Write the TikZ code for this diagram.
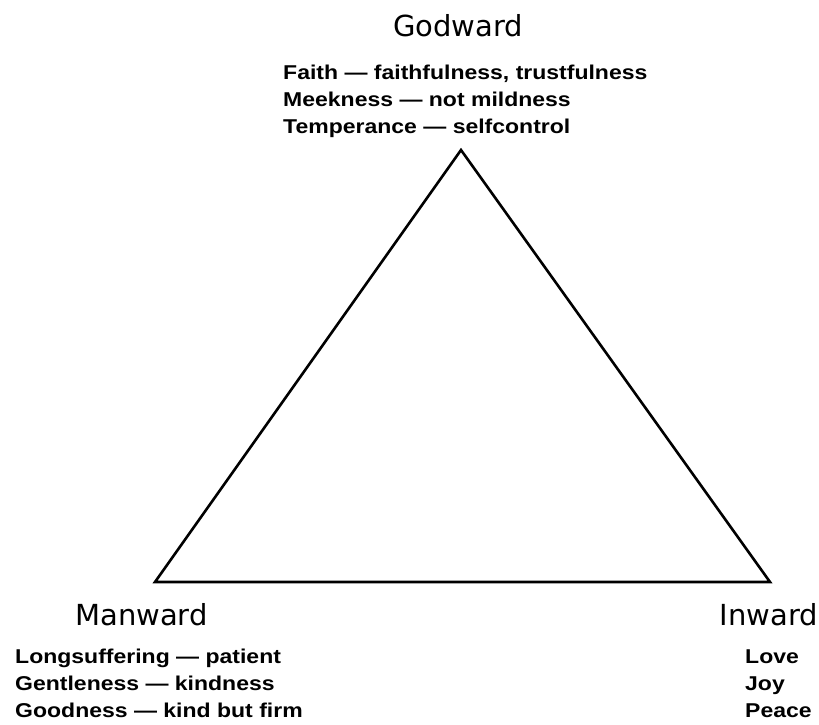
\documentclass[tikz,border=0pt]{standalone}
\usepackage{fontspec}
\setmainfont{Liberation Sans}[FakeStretch=1.15]
\newfontfamily\titlefont{DejaVu Sans}
\begin{document}
\begin{tikzpicture}[x=1pt,y=-1pt,
  title/.style={font=\titlefont\fontsize{29}{33}\selectfont, inner sep=0pt},
  item/.style={font=\bfseries\fontsize{20}{24}\selectfont, anchor=base west, inner sep=0pt},
  edge/.style={line width=2.6pt, line join=miter}]
\useasboundingbox (0,0) rectangle (819,725);
\coordinate (top) at (461,150);
\coordinate (bl) at (155,582);
\coordinate (br) at (770,582);
\draw[edge] (top) -- (bl) -- (br) -- cycle;
\node[title, anchor=base] (god) at (458,37) {Godward};
\node[title, anchor=base west] (man) at (75,625) {Manward};
\node[title, anchor=base east] (inw) at (818,625) {Inward};
\node[item] (g1) at (283,79) {Faith — faithfulness, trustfulness};
\node[item] (g2) at (283,106) {Meekness — not mildness};
\node[item] (g3) at (283,133) {Temperance — selfcontrol};
\node[item] (m1) at (15,663) {Longsuffering — patient};
\node[item] (m2) at (15,690) {Gentleness — kindness};
\node[item] (m3) at (15,717) {Goodness — kind but firm};
\node[item] (i1) at (745,663) {Love};
\node[item] (i2) at (745,690) {Joy};
\node[item] (i3) at (745,717) {Peace};
\end{tikzpicture}
\end{document}
